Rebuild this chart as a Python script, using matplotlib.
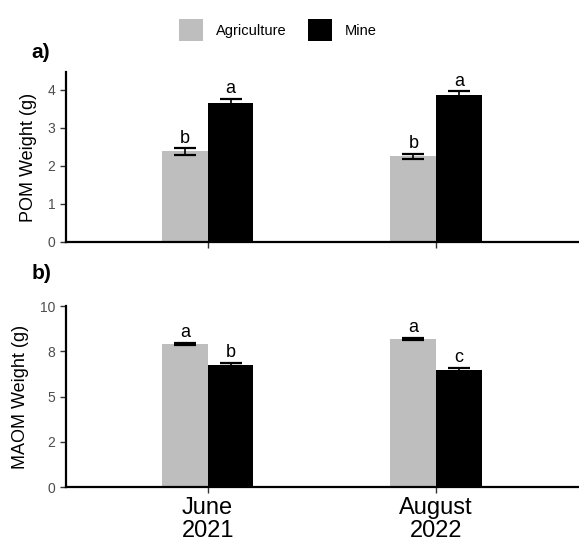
import numpy as np
import matplotlib.pyplot as plt

plt.rcParams['font.family'] = ['Liberation Sans', 'DejaVu Sans']

# data
dates = ['June\n2021', 'August\n2022']
groups = ['Agriculture', 'Mine']
colors = ['#bebebe', '#000000']

pom_mean = {'Agriculture': [2.38, 2.25], 'Mine': [3.66, 3.86]}
pom_se = {'Agriculture': [0.08, 0.07], 'Mine': [0.10, 0.11]}
pom_letters = {'Agriculture': ['b', 'b'], 'Mine': ['a', 'a']}

maom_mean = {'Agriculture': [7.90, 8.18], 'Mine': [6.75, 6.46]}
maom_se = {'Agriculture': [0.07, 0.06], 'Mine': [0.09, 0.10]}
maom_letters = {'Agriculture': ['a', 'a'], 'Mine': ['b', 'c']}

fig = plt.figure(figsize=(5.79, 5.48), dpi=100)
ax_a = fig.add_axes([0.114, 0.5584, 0.884, 0.3102])
ax_b = fig.add_axes([0.114, 0.1113, 0.884, 0.3303])

x = np.arange(1, len(dates) + 1)
w = 0.2


def draw(ax, means, ses, letters, ylim, yticks, yticklabels, ylabel, off):
    for i, g in enumerate(groups):
        pos = x + (i - 0.5) * w
        ax.bar(pos, means[g], width=w, color=colors[i], label=g)
        ax.errorbar(pos, means[g], yerr=ses[g], fmt='none', ecolor='black',
                    elinewidth=1.2, capsize=8, capthick=1.6)
        for p, m, s, t in zip(pos, means[g], ses[g], letters[g]):
            ax.text(p, m + s + off, t, ha='center', va='bottom', fontsize=13)
    ax.set_xlim(0.38, 2.62)
    ax.set_ylim(*ylim)
    ax.set_yticks(yticks)
    ax.set_yticklabels(yticklabels, color='#4d4d4d', fontsize=10)
    ax.set_xticks(x)
    for s in ['top', 'right']:
        ax.spines[s].set_visible(False)
    for s in ['left', 'bottom']:
        ax.spines[s].set_linewidth(1.6)
    ax.tick_params(axis='both', length=4, width=1, color='#333333')
    ax.set_ylabel(ylabel, fontsize=13, labelpad=8)


draw(ax_a, pom_mean, pom_se, pom_letters, (0, 4.47), [0, 1, 2, 3, 4],
     ['0', '1', '2', '3', '4'], 'POM Weight (g)', 0.04)
ax_a.set_xticklabels([])

draw(ax_b, maom_mean, maom_se, maom_letters, (0, 10), [0, 2.5, 5, 7.5, 10],
     ['0', '2', '5', '8', '10'], 'MAOM Weight (g)', 0.1)
ax_b.set_xticklabels(dates, fontsize=17, linespacing=1.05)
ax_b.tick_params(axis='x', pad=3)

fig.text(0.055, 0.895, 'a)', fontsize=15, fontweight='bold')
fig.text(0.055, 0.49, 'b)', fontsize=15, fontweight='bold')

handles, labels = ax_a.get_legend_handles_labels()
fig.legend(handles, labels, loc='upper center', bbox_to_anchor=(0.48, 0.99),
           ncol=2, frameon=False, fontsize=10.5, handlelength=1.6,
           handleheight=2.0, columnspacing=1.5, handletextpad=0.9)

plt.savefig('out.png', dpi=100)
